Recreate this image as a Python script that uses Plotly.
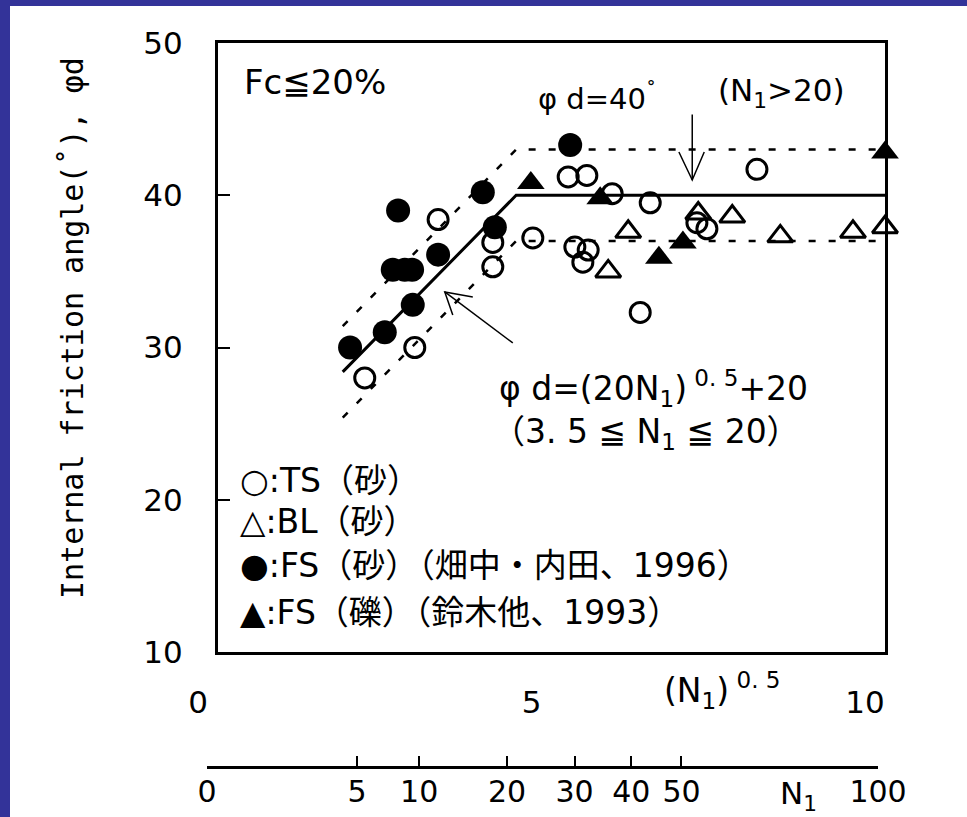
import plotly.graph_objects as go

W, H = 967, 817

# ---------------- data (x = (N1)^0.5, y = phi_d in degrees) ----------------
ts_x = [3.30, 4.12, 4.12, 4.72, 2.95, 2.20, 5.25, 5.53, 5.91, 6.48, 5.35, 5.55, 5.47, 7.18, 7.33, 6.33, 8.08]
ts_y = [38.4, 36.9, 35.3, 37.2, 30.0, 28.0, 41.2, 41.3, 40.1, 39.5, 36.6, 36.4, 35.6, 38.2, 37.8, 32.3, 41.7]

bl_x = [6.15, 5.85, 7.20, 7.71, 8.43, 9.52, 10.0]
bl_y = [37.6, 35.0, 38.8, 38.6, 37.3, 37.6, 37.9]

fs_sand_x = [2.70, 3.97, 4.15, 3.30, 2.62, 2.80, 2.91, 2.92, 2.50, 1.98, 5.28]
fs_sand_y = [39.0, 40.2, 37.9, 36.1, 35.1, 35.1, 35.1, 32.8, 31.0, 30.0, 43.3]

fs_gravel_x = [4.69, 5.73, 6.61, 6.97, 10.0]
fs_gravel_y = [40.8, 39.8, 35.9, 36.9, 42.8]

# design line vertices: sqrt(3.5), sqrt(20), sqrt(100)
line_x = [1.87, 4.47, 10.0]
line_mid = [28.4, 40.0, 40.0]
line_up = [31.4, 43.0, 43.0]
line_low = [25.4, 37.0, 37.0]

y_ticks = [10, 20, 30, 40, 50]
sqrt_ticks = [0, 5, 10]
n1_ticks = [0, 5, 10, 20, 30, 40, 50, 100]
n1_tick_text = ["0", "5", "10", "20", "30", "40", "50", "100"]

# ---------------- helpers (layout positions in pixels -> paper) ----------------
def px(x):
    return x / W

def py(y):
    return 1 - y / H

FONT = "DejaVu Sans, Noto Sans CJK JP, sans-serif"

fig = go.Figure()

# lines
fig.add_trace(go.Scatter(x=line_x, y=line_up, mode="lines",
                         line=dict(color="black", width=2.5, dash="7px,13px"),
                         hoverinfo="skip", cliponaxis=False))
fig.add_trace(go.Scatter(x=line_x, y=line_low, mode="lines",
                         line=dict(color="black", width=2.5, dash="7px,13px"),
                         hoverinfo="skip", cliponaxis=False))
fig.add_trace(go.Scatter(x=line_x, y=line_mid, mode="lines",
                         line=dict(color="black", width=3),
                         hoverinfo="skip", cliponaxis=False))

# markers
fig.add_trace(go.Scatter(x=ts_x, y=ts_y, mode="markers", name="TS(砂)",
                         marker=dict(symbol="circle-open", size=20, color="black",
                                     line=dict(width=3, color="black")),
                         cliponaxis=False))
fig.add_trace(go.Scatter(x=bl_x, y=bl_y, mode="markers", name="BL(砂)",
                         marker=dict(symbol="triangle-up-open", size=22, color="black",
                                     line=dict(width=3, color="black")),
                         cliponaxis=False))
fig.add_trace(go.Scatter(x=fs_sand_x, y=fs_sand_y, mode="markers", name="FS(砂)",
                         marker=dict(symbol="circle", size=24, color="black"),
                         cliponaxis=False))
fig.add_trace(go.Scatter(x=fs_gravel_x, y=fs_gravel_y, mode="markers", name="FS(礫)",
                         marker=dict(symbol="triangle-up", size=24, color="black"),
                         cliponaxis=False))

# empty trace to register the secondary N1 axis
fig.add_trace(go.Scatter(x=[], y=[], xaxis="x2", yaxis="y", showlegend=False))

shapes = [
    # white page on blue frame
    dict(type="rect", xref="paper", yref="paper", x0=px(10), x1=1, y0=0, y1=py(6),
         fillcolor="white", line=dict(width=0), layer="below"),
    # vertical arrow (phi d = 40)
    dict(type="line", xref="x", yref="y", x0=7.11, y0=45.3, x1=7.11, y1=41.0,
         line=dict(color="black", width=1.5)),
    dict(type="path", xref="x", yref="y", path="M 6.91,42.84 L 7.11,41.0 L 7.29,42.84",
         line=dict(color="black", width=1.5)),
    # diagonal arrow (formula)
    dict(type="line", xref="x", yref="y", x0=4.42, y0=30.3, x1=3.40, y1=33.65,
         line=dict(color="black", width=1.5)),
    dict(type="path", xref="x", yref="y", path="M 3.82,33.32 L 3.40,33.65 L 3.52,32.13",
         line=dict(color="black", width=1.5)),
]

annotations = []

def txt(text, x, y, size=30, xanchor="left", font=FONT, angle=0):
    annotations.append(dict(text=text, x=px(x), y=py(y), xref="paper", yref="paper",
                            xanchor=xanchor, yanchor="middle", showarrow=False,
                            textangle=angle,
                            font=dict(size=size, color="black", family=font)))

txt("Fc≦20%", 242, 82, 34)
txt("φ d=40<sup>˚</sup>", 536, 97, 29)
txt("(N<sub>1</sub>>20)", 716, 93, 31)
txt("φ d=(20N<sub>1</sub>)<sup> 0. 5</sup>+20", 497, 388, 33)
txt("（3. 5 ≦ N<sub>1</sub> ≦ 20）", 490, 433, 33)
txt("○:TS（砂）", 238, 480, 33)
txt("△:BL（砂）", 238, 521, 33)
txt("●:FS（砂）（畑中・内田、1996）", 238, 565, 33)
txt("▲:FS（礫）（鈴木他、1993）", 238, 612, 33)
txt("(N<sub>1</sub>)<sup> 0. 5</sup>", 662, 690, 33)
txt("N<sub>1</sub>", 778, 795, 31)
txt("Internal friction angle(˚), φd", 72, 328, 30, xanchor="center",
    font="DejaVu Sans Mono, monospace", angle=-90)

fig.update_layout(
    width=W, height=H,
    margin=dict(l=0, r=0, t=0, b=0, autoexpand=False),
    paper_bgcolor="#333399",
    plot_bgcolor="rgba(0,0,0,0)",
    showlegend=False,
    shapes=shapes,
    annotations=annotations,
    xaxis=dict(domain=[px(218), px(885)], range=[0, 10], showgrid=False, zeroline=False,
               automargin=False,
               showline=True, mirror=True, linecolor="black", linewidth=2.5,
               tickvals=sqrt_ticks, ticktext=[str(v) for v in sqrt_ticks],
               ticks="", ticklabelstandoff=21, ticklabelshift=-20,
               tickfont=dict(size=31, color="black", family=FONT)),
    yaxis=dict(domain=[py(652), py(43)], range=[10, 50], showgrid=False, zeroline=False,
               automargin=False,
               showline=True, mirror=True, linecolor="black", linewidth=3,
               tickvals=y_ticks, ticks="inside", ticklen=12, tickwidth=2, tickcolor="black",
               ticklabelstandoff=26,
               tickfont=dict(size=31, color="black", family=FONT)),
    xaxis2=dict(domain=[px(207), px(878)], range=[0, 10], anchor="free", position=py(767),
                automargin=False,
                showgrid=False, zeroline=False, showline=True, linecolor="black", linewidth=2.5,
                tickvals=[v ** 0.5 for v in n1_ticks], ticktext=n1_tick_text,
                ticks="inside", ticklen=10, tickwidth=2, tickcolor="black",
                ticklabelstandoff=-3,
                tickfont=dict(size=30, color="black", family=FONT)),
)

fig.write_html("out.html")
